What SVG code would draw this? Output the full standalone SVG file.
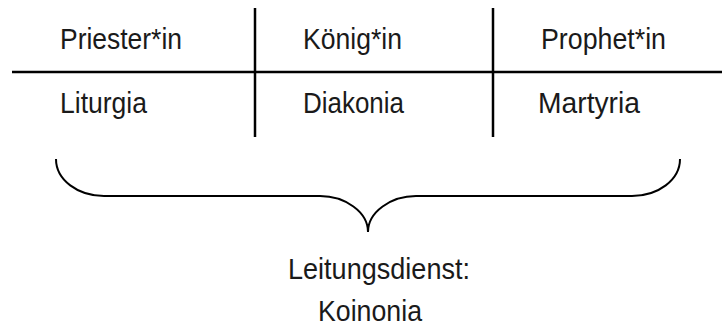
<svg xmlns="http://www.w3.org/2000/svg" width="722" height="329" viewBox="0 0 722 329">
<style>
text{font-family:"Liberation Sans",Arial,sans-serif;font-size:29px;fill:#1a1a1a}
.ln{stroke:#000;stroke-width:2.5;fill:none}
.br{stroke:#000;stroke-width:2;fill:none}
</style>
<rect width="722" height="329" fill="#fff"/>
<g id="connectors">
<line class="ln" x1="12" y1="72" x2="722" y2="72"/>
<line class="ln" x1="255" y1="8" x2="255" y2="137"/>
<line class="ln" x1="493" y1="8" x2="493" y2="137"/>
<path id="brace" class="br" d="M56,159 C56,180 78,196 104,196 L320,196 C345,196 368,212 368,232 C368,212 391,196 416,196 L632,196 C658,196 680,180 680,159"/>
</g>
<g id="n-priester"><text x="60" y="49" textLength="122" lengthAdjust="spacingAndGlyphs">Priester*in</text></g>
<g id="n-koenig"><text x="303" y="49" textLength="99" lengthAdjust="spacingAndGlyphs">König*in</text></g>
<g id="n-prophet"><text x="541" y="49" textLength="125" lengthAdjust="spacingAndGlyphs">Prophet*in</text></g>
<g id="n-liturgia"><text x="60" y="113" textLength="87" lengthAdjust="spacingAndGlyphs">Liturgia</text></g>
<g id="n-diakonia"><text x="303" y="113" textLength="101" lengthAdjust="spacingAndGlyphs">Diakonia</text></g>
<g id="n-martyria"><text x="538" y="113" textLength="102" lengthAdjust="spacingAndGlyphs">Martyria</text></g>
<g id="n-leitung">
<text x="288" y="279" textLength="182" lengthAdjust="spacingAndGlyphs">Leitungsdienst:</text>
<text x="318" y="321" textLength="104" lengthAdjust="spacingAndGlyphs">Koinonia</text>
</g>
</svg>
